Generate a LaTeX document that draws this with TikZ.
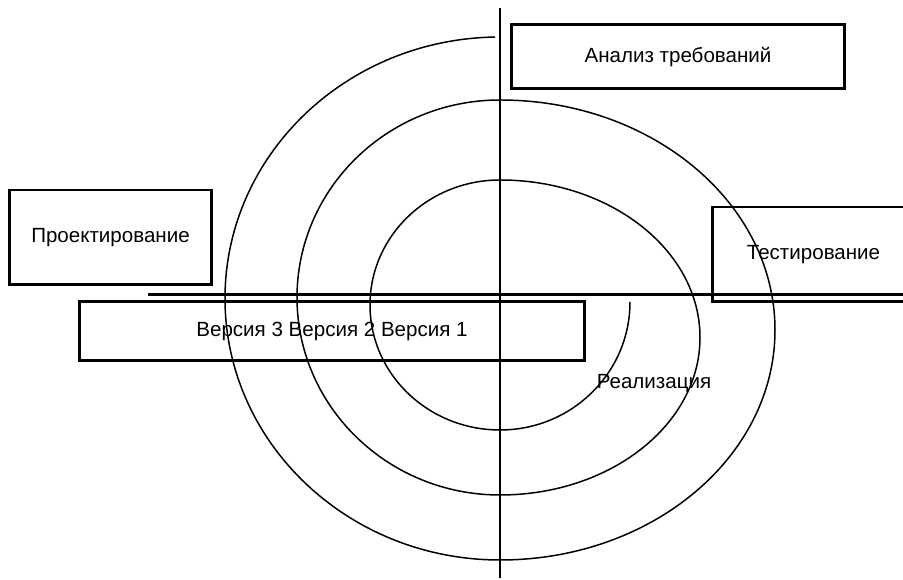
\documentclass[tikz,border=0pt]{standalone}
\usepackage{fontspec}
\setmainfont{Liberation Sans}
\tikzset{
  boite/.style={draw, line width=1.7pt, inner sep=0pt, font=\fontsize{11.7}{14}\selectfont},
  axe/.style={line width=1.7pt},
  spirale/.style={line width=0.85pt}
}
\begin{document}
\begin{tikzpicture}[x=0.02cm, y=0.02cm]
  \useasboundingbox (0,0) rectangle (903,580);
  % Спираль
  \draw[spirale] (630,278) arc[start angle=0, end angle=-90, x radius=130, y radius=128]
    arc[start angle=-90, end angle=-270, x radius=130, y radius=125]
    arc[start angle=90, end angle=-90, x radius=200, y radius=157.5]
    arc[start angle=-90, end angle=-270, x radius=203, y radius=197.5]
    arc[start angle=90, end angle=-90, x radius=275, y radius=230]
    arc[start angle=-90, end angle=-269, x radius=275, y radius=261.5];
  % Оси
  \draw[axe] (500,2) -- (500,572);
  \draw[axe] (148,285) -- (903,285);
  % Этапы
  \node[boite, minimum width=6.68cm, minimum height=1.28cm] (analyse) at (678,523) {Анализ требований};
  \node[boite, minimum width=4.06cm, minimum height=1.9cm] (projet) at (110.5,342.5) {Проектирование};
  \node[boite, minimum width=4.06cm, minimum height=1.9cm] (tests) at (813.5,325.5) {Тестирование};
  \node[boite, minimum width=10.12cm, minimum height=1.18cm] (versions) at (332,249) {Версия 3 Версия 2 Версия 1};
  \node[font=\fontsize{11.7}{14}\selectfont] (realisation) at (654,197) {Реализация};
\end{tikzpicture}
\end{document}
